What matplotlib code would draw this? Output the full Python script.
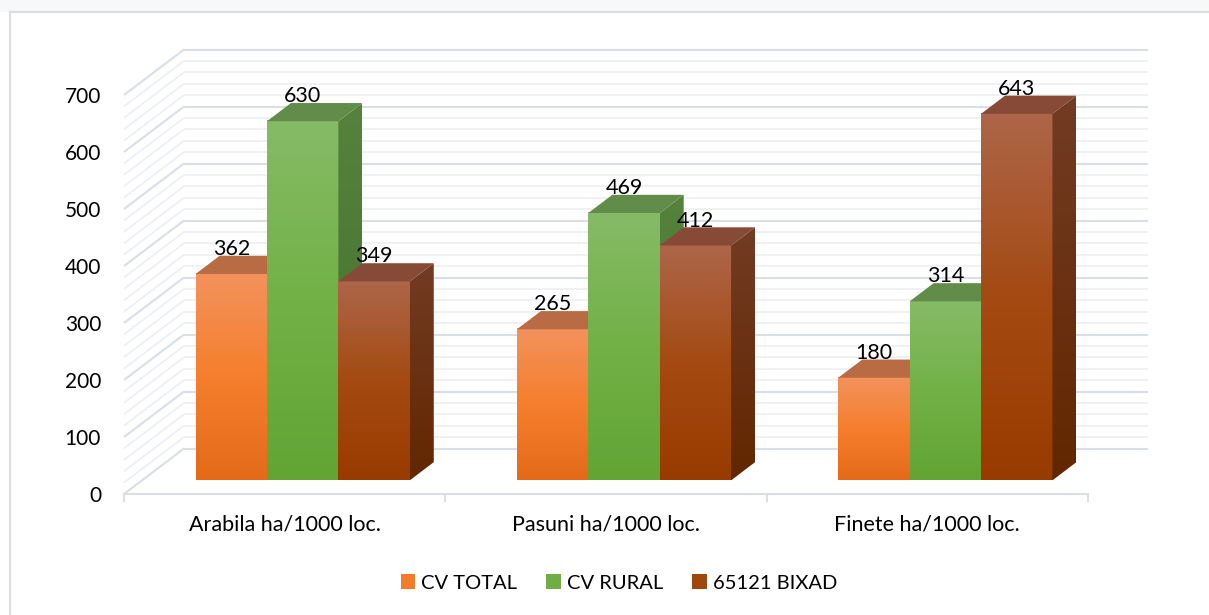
import numpy as np
import matplotlib.pyplot as plt
from matplotlib.patches import Polygon, Rectangle, Patch
from matplotlib.colors import to_rgb

# data
categories = ["Arabila ha/1000 loc.", "Pasuni ha/1000 loc.", "Finete ha/1000 loc."]
series_names = ["CV TOTAL", "CV RURAL", "65121 BIXAD"]
cv_total = [362, 265, 180]
cv_rural = [630, 469, 314]
bixad = [349, 412, 643]
y_ticks = [0, 100, 200, 300, 400, 500, 600, 700]

# colours: front gradient (top, middle, bottom), top face, side gradient (top, bottom)
front_cols = [("#F3925D", "#F57F2D", "#E46A18"),
              ("#86BB67", "#72B146", "#63A435"),
              ("#AD6649", "#A44A12", "#983B00")]
top_cols = ["#B96B43", "#628C4A", "#874A37"]
side_cols = [("#C0622A", "#A4500F"),
             ("#55823D", "#44702A"),
             ("#723C24", "#622700")]
legend_cols = ["#F37B2A", "#70AD47", "#9E480E"]

plt.rcParams['font.family'] = ['Lato', 'DejaVu Sans']
txt_col = "#000000"
grid_major = "#D9DEE7"
grid_minor = "#ECEFF4"

W, H = 1209, 615
fig = plt.figure(figsize=(W / 100, H / 100), dpi=100)
fig.patch.set_facecolor("white")

# chart frame like the Excel chart area (open to the right and bottom)
fig.add_artist(Rectangle((0, 1 - 12 / H), 1, 12 / H, transform=fig.transFigure,
                         facecolor="#F8F8F8", edgecolor="none"))
fig.add_artist(plt.Line2D([10 / W, 10 / W], [0, 1 - 12 / H], transform=fig.transFigure,
                          color="#D9DEE6", lw=1.5))
fig.add_artist(plt.Line2D([10 / W, 1], [1 - 12 / H, 1 - 12 / H], transform=fig.transFigure,
                          color="#D9DEE6", lw=1.5))

# front plane: x 0..3 -> px 124..1088, y 0..700 -> px 494..95
x_left, x_right = 124, 1088
y_bot, y_top = 494, 95
ax = fig.add_axes([x_left / W, 1 - y_bot / H, (x_right - x_left) / W, (y_bot - y_top) / H])
ax.set_facecolor("none")

px_per_cat = (x_right - x_left) / 3
px_per_val = (y_bot - y_top) / 700
DX = 60 / px_per_cat      # depth shift in category units
DY = 45.5 / px_per_val    # depth shift in value units
d0, d1 = 0.3, 0.7         # bar depth range


def proj(x, v, d):
    return (x + d * DX, v + d * DY)


# walls: back wall and side wall gridlines
for v in range(0, 701, 20):
    major = v % 100 == 0
    col = grid_major if major else grid_minor
    lw = 1.5 if major else 1.2
    z = 1.2 if major else 1.1
    bx0, by = proj(0, v, 1)
    bx1, _ = proj(3, v, 1)
    ax.plot([0, bx0], [v, by], color=col, lw=lw, clip_on=False, zorder=z,
            solid_capstyle="butt")
    ax.plot([bx0, bx1], [by, by], color=col, lw=lw, clip_on=False, zorder=z,
            solid_capstyle="butt")


def vgrad(stops, n=200):
    cols = np.array([to_rgb(c) for c in stops])
    pos = np.linspace(0, 1, len(stops))
    t = np.linspace(0, 1, n)
    g = np.stack([np.interp(t, pos, cols[:, k]) for k in range(3)], axis=1)
    return g[:, None, :]


bar_w = 1 / 4.5
gap = 0.75 / 4.5
values = [cv_total, cv_rural, bixad]

z = 3
for i in range(len(categories)):
    for s in range(len(series_names)):
        v = values[s][i]
        x0 = i + gap + s * bar_w
        x1 = x0 + bar_w
        # front face
        fx0, fy0 = proj(x0, 0, d0)
        fx1, fy1 = proj(x1, v, d0)
        ax.imshow(vgrad(front_cols[s]), extent=[fx0, fx1, fy0, fy1], aspect="auto",
                  interpolation="bilinear", zorder=z)
        # side face
        side = [proj(x1, 0, d0), proj(x1, 0, d1), proj(x1, v, d1), proj(x1, v, d0)]
        sp = Polygon(side, closed=True, facecolor="none", edgecolor="none", zorder=z)
        ax.add_patch(sp)
        sx = [p[0] for p in side]
        sy = [p[1] for p in side]
        im = ax.imshow(vgrad(side_cols[s]), extent=[min(sx), max(sx), min(sy), max(sy)],
                       aspect="auto", interpolation="bilinear", zorder=z)
        im.set_clip_path(sp)
        # top face
        top = [proj(x0, v, d0), proj(x1, v, d0), proj(x1, v, d1), proj(x0, v, d1)]
        ax.add_patch(Polygon(top, closed=True, facecolor=top_cols[s], edgecolor="none",
                             zorder=z + 0.5))
        # value label
        lx, ly = proj((x0 + x1) / 2, v, d0)
        ax.annotate(str(v), xy=(lx, ly), xytext=(0, 18), textcoords="offset points",
                    ha="center", va="center", fontsize=15.5, color=txt_col, zorder=20)
        z += 1

ax.set_xlim(0, 3)
ax.set_ylim(0, 700)

ax.set_yticks(y_ticks)
ax.set_yticklabels([str(t) for t in y_ticks])
ax.tick_params(axis="y", length=0, pad=16.5, labelsize=15, labelcolor=txt_col)

ax.set_xticks([0.5, 1.5, 2.5])
ax.set_xticklabels(categories)
ax.set_xticks([0, 1, 2, 3], minor=True)
ax.tick_params(axis="x", which="major", length=0, pad=15, labelsize=15.5, labelcolor=txt_col)
ax.tick_params(axis="x", which="minor", length=6, width=1.5, color=grid_major)

for side_name in ["top", "right", "left"]:
    ax.spines[side_name].set_visible(False)
ax.spines["bottom"].set_color(grid_major)
ax.spines["bottom"].set_linewidth(1.5)

handles = [Patch(facecolor=c, edgecolor="none") for c in legend_cols]
fig.legend(handles, series_names, loc="center", bbox_to_anchor=(619 / W, 1 - 583 / H),
           ncol=3, frameon=False, fontsize=14.5, handlelength=0.72, handleheight=0.72,
           handletextpad=0.3, columnspacing=1.45, labelcolor=txt_col)

fig.savefig("out.png", dpi=100)
